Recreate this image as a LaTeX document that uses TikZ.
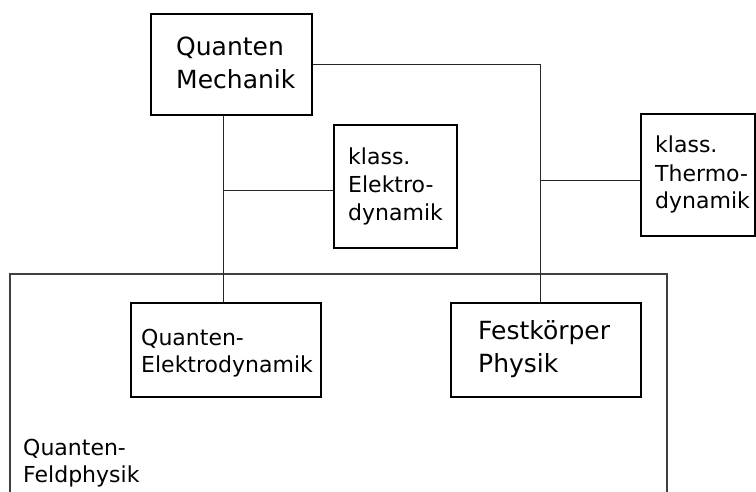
\documentclass[tikz,border=0pt]{standalone}
\usepackage{fontspec}
\setmainfont{DejaVu Sans}
\begin{document}
\begin{tikzpicture}[x=1pt,y=-1pt,
  box/.style={draw=black, line width=2.2pt, inner sep=0pt, fill=none},
  link/.style={draw=black!85, line width=1pt},
  frame/.style={draw=black!75, line width=1.2pt},
  big/.style={font=\fontsize{25}{33}\selectfont, align=left, inner sep=0pt, anchor=base west},
  small/.style={font=\fontsize{22}{28}\selectfont, align=left, inner sep=0pt, anchor=base west},
  tight/.style={font=\fontsize{22}{27}\selectfont}]
  \useasboundingbox (0,0) rectangle (756,492);

  % outer region, open at the bottom
  \coordinate (fl) at (10,492);
  \coordinate (fr) at (667,492);
  \draw[frame] (fl) -- (10,274) -- (667,274) -- (fr);

  % boxes
  \node[box, minimum width=161pt, minimum height=101pt] (qm)  at (231.5,64.5) {};
  \node[box, minimum width=123pt, minimum height=123pt] (ked) at (395.5,186.5) {};
  \node[box, minimum width=114pt, minimum height=122pt] (ktd) at (698,175) {};
  \node[box, minimum width=190pt, minimum height=94pt]  (qed) at (226,350) {};
  \node[box, minimum width=190pt, minimum height=94pt]  (fk)  at (546,350) {};

  % texts (anchored at the baseline of their last line)
  \node[big]         (tqm)  at (176,88.5) {Quanten\\Mechanik};
  \node[small]       (tked) at (348,221)  {klass.\\Elektro-\\dynamik};
  \node[small]       (tktd) at (655,209)  {klass.\\Thermo-\\dynamik};
  \node[small,tight] (tqed) at (141,372)  {Quanten-\\Elektrodynamik};
  \node[big]         (tfk)  at (478,372)  {Festkörper\\Physik};
  \node[small,tight] (tqfp) at (23,482)   {Quanten-\\Feldphysik};

  % connectors
  \coordinate (s1) at (223,191);
  \coordinate (s2) at (540,181);
  \draw[link] (s1 |- qm.south) -- (s1 |- qed.north);
  \draw[link] (s1) -- (ked.west |- s1);
  \draw[link] (qm.east) -| (s2 |- fk.north);
  \draw[link] (s2) -- (ktd.west |- s2);
\end{tikzpicture}
\end{document}
